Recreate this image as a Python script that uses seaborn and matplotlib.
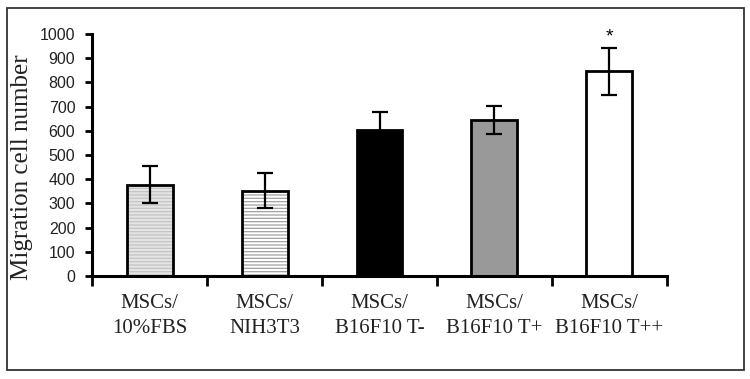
import numpy as np
import pandas as pd
import matplotlib
matplotlib.use('Agg')
import matplotlib.pyplot as plt
from matplotlib.patches import Rectangle
import seaborn as sns

groups = ['MSCs/\n10%FBS', 'MSCs/\nNIH3T3', 'MSCs/\nB16F10 T-', 'MSCs/\nB16F10 T+', 'MSCs/\nB16F10 T++']
cells = [378, 353, 605, 645, 846]
sd = [77, 73, 71, 58, 97]
fills = ['#e4e4e4', '#ffffff', '#000000', '#999999', '#ffffff']
hatch_colors = ['#c4c4c4', '#a0a0a0', None, None, None]

df = pd.DataFrame({'group': groups, 'cells': cells})

plt.rcParams['hatch.linewidth'] = 0.9

fig = plt.figure(figsize=(7.5, 3.79), dpi=100)
ax = fig.add_axes([0.1227, 0.2718, 0.7666, 0.6385])

# fill layer (with hatching on the first two)
sns.barplot(data=df, x='group', y='cells', hue='group', palette=fills,
            width=0.4, legend=False, ax=ax, saturation=1)
for p, hc in zip(ax.patches, hatch_colors):
    p.set_linewidth(0)
    if hc is not None:
        p.set_hatch('-----')
        p.set_edgecolor(hc)
    p.set_zorder(1)
n_fill = len(ax.patches)

# outline layer
sns.barplot(data=df, x='group', y='cells', color='white',
            width=0.4, ax=ax, saturation=1)
for p in ax.patches[n_fill:]:
    p.set_facecolor('none')
    p.set_edgecolor('black')
    p.set_linewidth(2)
    p.set_zorder(2)

ax.errorbar(np.arange(len(groups)), cells, yerr=sd, fmt='none',
            ecolor='black', elinewidth=1.6, capsize=5.5, capthick=1.6, zorder=3)

ax.text(4, cells[4] + sd[4] + 8, '*', ha='center', va='bottom',
        fontsize=14, family='Liberation Sans')

ax.set_xlim(-0.5, 4.5)
ax.set_ylim(0, 1000)
ax.set_yticks(range(0, 1001, 100))
ax.set_xticks(np.arange(-0.5, 5, 1))
ax.set_xticklabels([])
ax.set_xticks(range(len(groups)), minor=True)
ax.set_xticklabels(groups, minor=True, family='Liberation Serif', fontsize=15,
                   color='#222222', linespacing=1.4)
ax.tick_params(axis='x', which='major', direction='out', length=7, width=2)
ax.tick_params(axis='x', which='minor', length=0, pad=13)
ax.tick_params(axis='y', direction='out', length=5, width=2, pad=7)
for lab in ax.get_yticklabels():
    lab.set_family('Liberation Sans')
    lab.set_fontsize(11.5)
    lab.set_color('#222222')

ax.set_xlabel('')
ax.set_ylabel('Migration cell number', family='Liberation Serif', fontsize=18,
              color='#222222')
ax.yaxis.set_label_coords(-0.1026, 0.45)

for s in ['top', 'right']:
    ax.spines[s].set_visible(False)
for s in ['left', 'bottom']:
    ax.spines[s].set_linewidth(2.2)

fig.patches.append(Rectangle((7 / 750, 1 - 370 / 379), 737 / 750, 362 / 379,
                             transform=fig.transFigure, fill=False,
                             edgecolor='#333333', linewidth=1.3))

fig.savefig('out.png', dpi=100)
